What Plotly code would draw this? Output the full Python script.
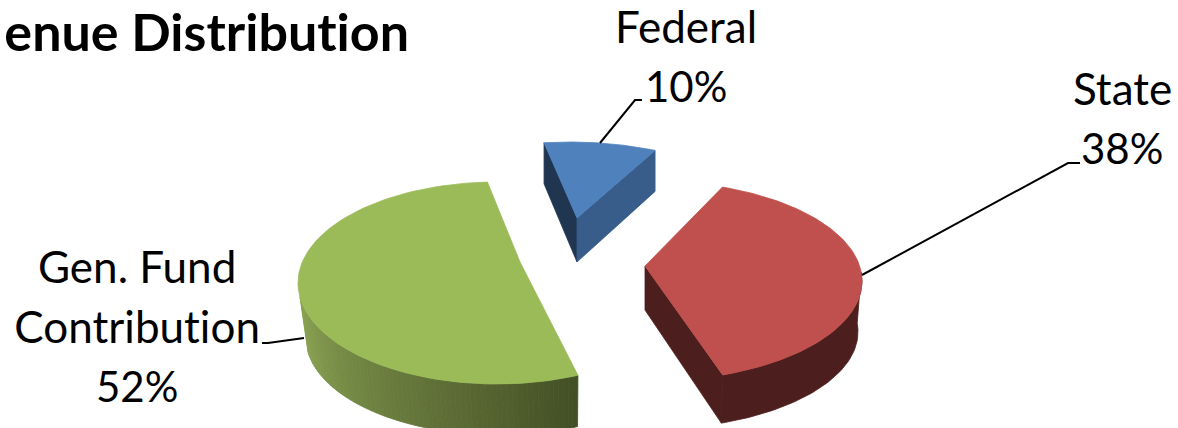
import numpy as np
import plotly.graph_objects as go

# Data
categories = ["Federal", "State", "Gen. Fund Contribution"]
values = [10, 38, 52]
title_text = "enue Distribution"

# Style / geometry
W, H = 1178, 428
TOP = {"Federal": "#4f81bd", "State": "#c0504d", "Gen. Fund Contribution": "#9bbb59"}
FONT = "Lato"


def arc(g, a):
    a = np.radians(a)
    return g["cx"] + g["rx"] * np.cos(a), g["cy"] - g["ry"] * np.sin(a)


def mix(c1, c2, t):
    return "rgb(%d,%d,%d)" % tuple(round(p + (q - p) * t) for p, q in zip(c1, c2))


GEOM = {
    "Federal": dict(apex=(577, 218), top=dict(cx=570, cy=240, rx=210, ry=98),
                    bot=dict(cx=570, cy=281, rx=210, ry=98), start=97.1, stretch=0.861),
    "State": dict(apex=(645, 266), top=dict(cx=650, cy=281, rx=212, ry=100),
                  bot=dict(cx=650, cy=332, rx=208, ry=97), start=70, stretch=1.023),
    "Gen. Fund Contribution": dict(apex=(520, 262), top=dict(cx=497, cy=283, rx=199, ry=101),
                                   bot=dict(cx=499, cy=338, rx=193, ry=97), start=-66, stretch=1.075),
}
DEPTH_APEX = {"Federal": 44, "State": 44, "Gen. Fund Contribution": 50}

fig = go.Figure()


def poly(xs, ys, color):
    fig.add_trace(go.Scatter(x=list(xs), y=list(ys), mode="lines", fill="toself",
                             fillcolor=color, line=dict(color=color, width=0.8),
                             hoverinfo="skip", showlegend=False))


def strips(g, a0, a1, c0, c1, n=50):
    edges = np.linspace(a0, a1, n + 1)
    for i in range(n):
        xa, ya = arc(g["top"], edges[i])
        xb, yb = arc(g["top"], edges[i + 1])
        xc, yc = arc(g["bot"], edges[i + 1])
        xd, yd = arc(g["bot"], edges[i])
        poly([xa, xb, xc, xd, xa], [ya, yb, yc, yd, ya], mix(c0, c1, i / (n - 1)))


for name, val in zip(categories, values):
    g = GEOM[name]
    span = val * 3.6 * g["stretch"]
    s = g["start"]
    e = s - span
    ax, ay = g["apex"]
    d = DEPTH_APEX[name]
    sx, sy = arc(g["top"], s)
    ex, ey = arc(g["top"], e)
    sbx, sby = arc(g["bot"], s)
    ebx, eby = arc(g["bot"], e)
    if name == "Federal":
        poly([sx, ax, ax, sbx, sx], [sy, ay, ay + d, sby, sy], "#1f3550")
        poly([ax, ex, ebx, ax, ax], [ay, ey, eby, ay + d, ay], "#385d8a")
    elif name == "State":
        poly([ax, ex, ebx, ax, ax], [ay, ey, eby, ay + d, ay], "#4c1f1e")
        t = np.linspace(5, e, 60)
        tx, ty = arc(g["top"], t)
        bx, by = arc(g["bot"], t[::-1])
        poly([*tx, *bx, tx[0]], [*ty, *by, ty[0]], "#4c1f1e")
    else:
        strips(g, -172, s, (138, 163, 82), (67, 79, 37), n=70)
    t = np.linspace(s, e, 120)
    tx, ty = arc(g["top"], t)
    poly([ax, *tx, ax], [ay, *ty, ay], TOP[name])

# Leader lines
LEADERS = [([600, 635, 642], [143, 100, 100]),
           ([862, 1068, 1080], [275, 163, 163]),
           ([304, 268, 262], [338, 343, 343])]
for lx, ly in LEADERS:
    fig.add_trace(go.Scatter(x=lx, y=ly, mode="lines", line=dict(color="#000000", width=2),
                             hoverinfo="skip", showlegend=False))

# Labels
LABEL_POS = {"Federal": (686, 26), "State": (1122, 88), "Gen. Fund Contribution": (137, 266)}
LABEL_LINES = {"Federal": ["Federal"], "State": ["State"],
               "Gen. Fund Contribution": ["Gen. Fund", "Contribution"]}
LINE_H = 60
for name, val in zip(categories, values):
    x0, y0 = LABEL_POS[name]
    lines = LABEL_LINES[name]
    for i, line in enumerate(lines):
        fig.add_annotation(x=x0, y=y0 + i * LINE_H, text=line, showarrow=False,
                           xanchor="center", yanchor="middle",
                           font=dict(family=FONT, size=44, color="#000000"))
    fig.add_annotation(x=x0, y=y0 + len(lines) * LINE_H, text=f"{val}%", showarrow=False,
                       xanchor="center", yanchor="middle",
                       font=dict(family=FONT, size=42, color="#000000"))

fig.add_annotation(x=411, y=31, text=f"<b>{title_text}</b>", showarrow=False, xanchor="right",
                   yanchor="middle", font=dict(family=FONT, size=52, color="#000000"))

fig.update_layout(width=W, height=H, margin=dict(l=0, r=0, t=0, b=0),
                  paper_bgcolor="white", plot_bgcolor="white",
                  xaxis=dict(range=[0, W], visible=False, fixedrange=True),
                  yaxis=dict(range=[H, 0], visible=False, fixedrange=True))

fig.write_html("out.html", config={"displayModeBar": False},
               post_script="document.body.style.margin='0';document.body.style.overflow='hidden';"
                           "var s=document.createElement('style');"
                           "s.textContent='text{font-variant-ligatures:none !important;"
                           "font-feature-settings:\"liga\" 0,\"dlig\" 0 !important;"
                           "letter-spacing:0.01px;}';"
                           "document.head.appendChild(s);")
